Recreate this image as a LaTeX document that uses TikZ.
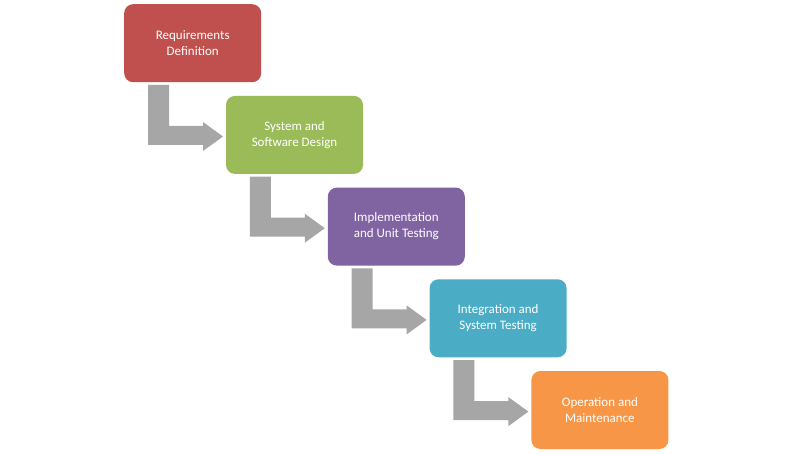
\documentclass[tikz,border=0pt]{standalone}
\usepackage{fontspec}
\setmainfont{Carlito}
\definecolor{c1}{HTML}{C0504D}
\definecolor{c2}{HTML}{9BBB59}
\definecolor{c3}{HTML}{8064A2}
\definecolor{c4}{HTML}{4BACC6}
\definecolor{c5}{HTML}{F79646}
\definecolor{ag}{HTML}{A6A6A6}
\begin{document}
\begin{tikzpicture}[x=1pt,y=-1pt,
  stage/.style={rounded corners=9pt,minimum width=137pt,minimum height=78pt,anchor=north west,
    text=white,align=center,font=\fontsize{13}{16}\selectfont,inner sep=0pt},
  garrow/.style={fill=ag,draw=none}]
\useasboundingbox (0,0) rectangle (799,454);
\foreach \i/\c/\t [count=\k from 0] in {1/c1/{Requirements\\Definition},2/c2/{System and\\Software Design},3/c3/{Implementation\\and Unit Testing},4/c4/{Integration and\\System Testing},5/c5/{Operation and\\Maintenance}}{
  \node[stage,fill=\c] (s\i) at (124+101.8*\k,4+91.7*\k) {\t};
}
\foreach \k in {0,1,2,3}{
  \begin{scope}[shift={(124+101.8*\k,4+91.7*\k)}]
  \fill[garrow] (24,81) -- (45,81) -- (45,122) -- (79,122) -- (79,118) -- (99,132.5) -- (79,147) -- (79,141) -- (24,141) -- cycle;
  \end{scope}
}
\end{tikzpicture}
\end{document}
